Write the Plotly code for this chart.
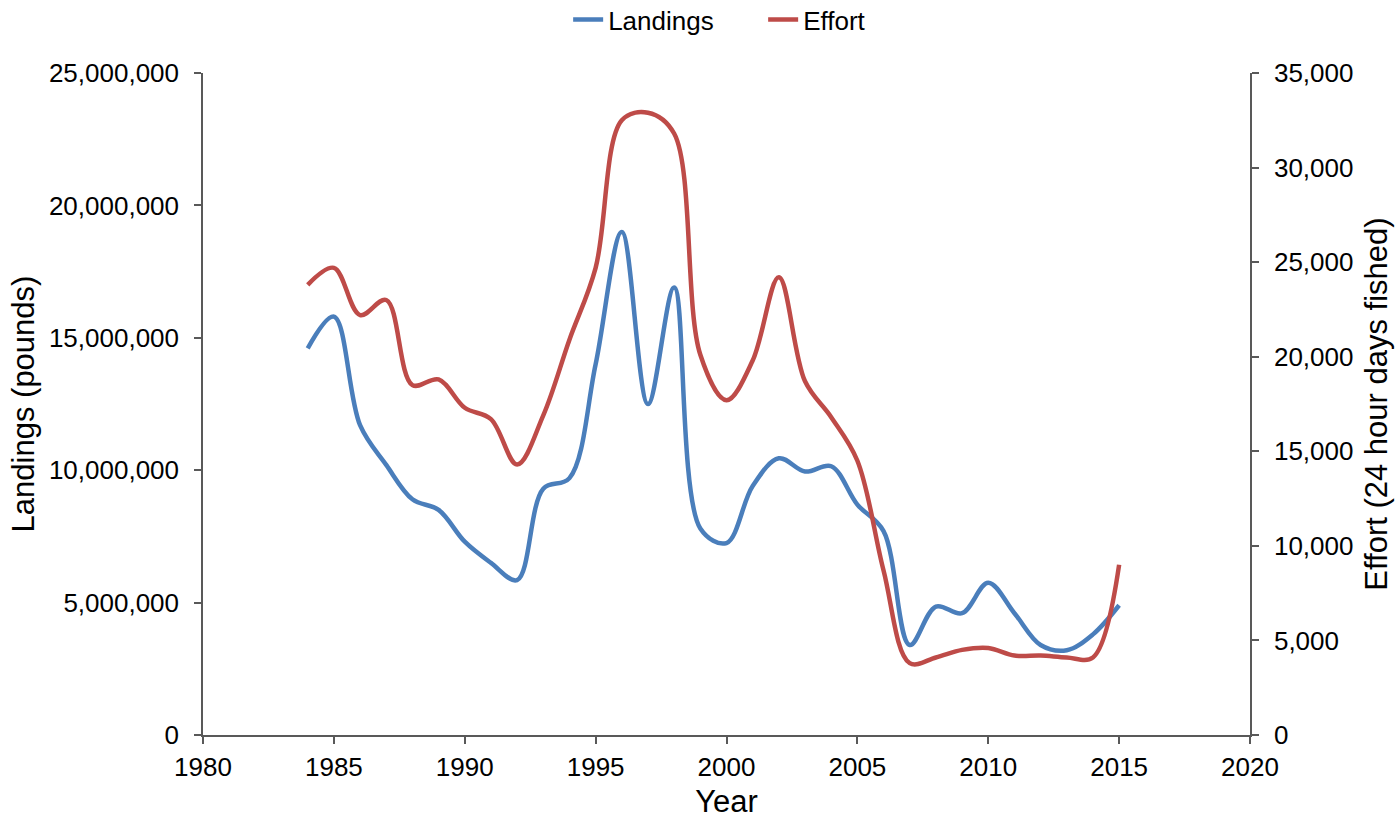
import plotly.graph_objects as go

years = list(range(1984, 2016))

# Landings in pounds (left axis)
landings = [
    14600000, 15800000, 11700000, 10200000, 8900000, 8500000, 7300000, 6500000,
    5850000, 9300000, 9700000, 14000000, 19000000, 12500000, 16900000, 7800000,
    7250000, 9400000, 10450000, 9950000, 10150000, 8700000, 7700000, 3400000,
    4850000, 4600000, 5750000, 4600000, 3400000, 3200000, 3800000, 4900000,
]

# Effort in 24-hour days fished (right axis)
effort = [
    23800, 24700, 22200, 23000, 18500, 18800, 17300, 16700,
    14300, 16900, 20900, 24700, 32500, 32900, 31800, 20100,
    17700, 19800, 24200, 18700, 16800, 14500, 8700, 3800,
    4100, 4500, 4600, 4200, 4200, 4100, 4100, 9000,
]

FONT = "Liberation Sans, Arial, sans-serif"
FS = 26
AXIS_COLOR = "#595959"

axis_common = dict(
    showgrid=False, zeroline=False, automargin=False,
    showline=True, linecolor=AXIS_COLOR, linewidth=1.5,
    ticks="outside", ticklen=7, tickcolor=AXIS_COLOR, tickwidth=1.5,
    tickfont=dict(size=FS),
)

fig = go.Figure()
fig.add_trace(go.Scatter(
    x=years, y=landings, name="Landings", mode="lines",
    line=dict(color="#4A7EBB", width=4.5, shape="spline", smoothing=1.0),
    yaxis="y",
))
fig.add_trace(go.Scatter(
    x=years, y=effort, name="Effort", mode="lines",
    line=dict(color="#BE4B48", width=4.5, shape="spline", smoothing=1.0),
    yaxis="y2",
))

fig.update_layout(
    width=1395, height=819,
    margin=dict(l=203, r=145, t=73, b=84),
    paper_bgcolor="white", plot_bgcolor="white",
    font=dict(family=FONT, size=FS, color="black"),
    showlegend=True,
    legend=dict(
        orientation="h", x=0.535, xanchor="center", y=0.976, yref="container",
        yanchor="middle", font=dict(size=FS), itemwidth=30,
        entrywidth=150, entrywidthmode="pixels",
        bgcolor="rgba(0,0,0,0)",
    ),
    xaxis=dict(
        range=[1980, 2020], tick0=1980, dtick=5, ticklabelstandoff=1,
        title=dict(text="Year", standoff=10), **axis_common,
    ),
    yaxis=dict(
        range=[0, 25000000], tick0=0, dtick=5000000, tickformat=",",
        ticklabelstandoff=10,
        title=dict(text="Landings (pounds)", standoff=5), **axis_common,
    ),
    yaxis2=dict(
        range=[0, 35000], tick0=0, dtick=5000, tickformat=",",
        overlaying="y", side="right", ticklabelstandoff=10,
        title=dict(text="Effort (24 hour days fished)", standoff=13),
        **axis_common,
    ),
)

fig.write_html("out.html")
